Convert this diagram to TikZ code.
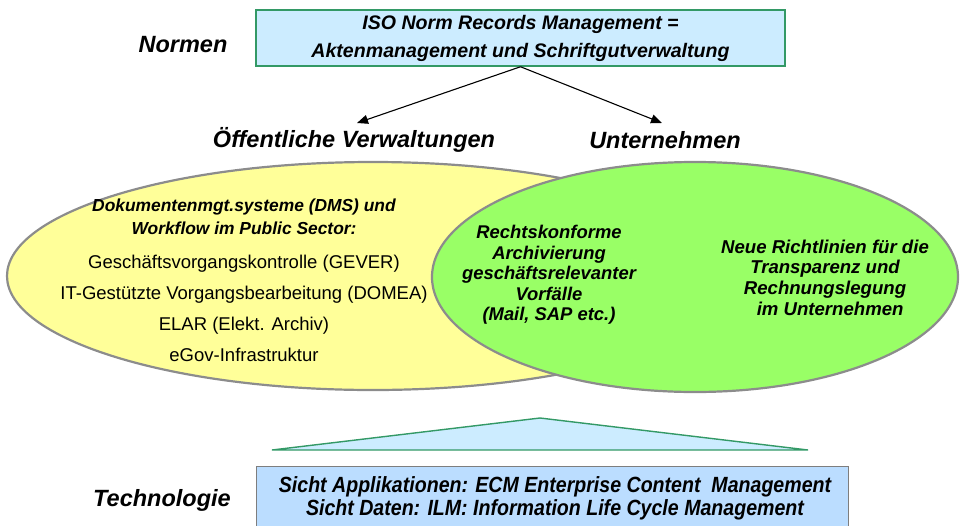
\documentclass[tikz,border=0pt]{standalone}
\usepackage{fontspec}
\setmainfont{Liberation Sans}
\usetikzlibrary{arrows.meta,shapes.geometric}
\definecolor{boxblue}{HTML}{CCECFF}
\definecolor{boxgreen}{HTML}{339966}
\definecolor{botblue}{HTML}{BBDDFF}
\definecolor{ellyellow}{HTML}{FFFF99}
\definecolor{ellgreen}{HTML}{99FF66}
\definecolor{ellline}{HTML}{8C8C8C}
\newfontfamily\narrowbi[FakeStretch=0.89]{Liberation Sans}
\begin{document}
\begin{tikzpicture}[x=1pt,y=-1pt,
  sidelbl/.style={font=\bfseries\itshape\fontsize{23.5}{26}\selectfont},
  headlbl/.style={font=\bfseries\itshape\fontsize{23.5}{26}\selectfont},
  elltext/.style={align=center,inner sep=0pt},
  ell/.style={draw=ellline,line width=2.2pt},
  conn/.style={line width=1.1pt,-{Triangle[length=11pt,width=9pt]}}
]
\useasboundingbox (0,0) rectangle (963,525);
\clip (0,0) rectangle (963,525);
% ellipses
\fill[ellyellow] (373,276) ellipse [x radius=366,y radius=114];
\draw[ell] (373,276) ellipse [x radius=366,y radius=114];
\node[ellipse,fill=ellgreen,draw=ellline,line width=2.2pt,minimum width=526,minimum height=230,inner sep=0pt] (ent) at (695,277) {};
% top box
\node[draw=boxgreen,fill=boxblue,line width=1.5pt,minimum width=529,minimum height=56,inner sep=0pt,align=center,font=\bfseries\itshape\fontsize{19.6}{28}\selectfont] (iso) at (520.5,38) {ISO Norm Records Management =\\Aktenmanagement und Schriftgutverwaltung};
\node[sidelbl] (normen) at (183,45) {Normen};
% labels
\node[headlbl] (oev) at (354,140) {Öffentliche Verwaltungen};
\node[headlbl] (unt) at (665,140) {Unternehmen};
\coordinate (tipL) at (357,123);
\coordinate (tipR) at (662,123);
\draw[conn] (iso.south) -- (tipL);
\draw[conn] (iso.south) -- (tipR);
% yellow text
\node[elltext,font=\bfseries\itshape\fontsize{17.4}{23}\selectfont] (dms) at (244,216.5) {Dokumentenmgt.systeme (DMS) und\\Workflow im Public Sector:};
\node[elltext,font=\fontsize{18.5}{31}\selectfont] (gever) at (244,308.5) {Geschäftsvorgangskontrolle (GEVER)\\IT-Gestützte Vorgangsbearbeitung (DOMEA)\\ELAR (Elekt. Archiv)\\eGov-Infrastruktur};
% green texts
\node[elltext,font=\bfseries\itshape\fontsize{18.4}{20.4}\selectfont] (arch) at (549,275) {Rechtskonforme\\Archivierung\\geschäftsrelevanter\\Vorfälle\\(Mail, SAP etc.)};
\node[elltext,font=\bfseries\itshape\fontsize{18.6}{20.6}\selectfont] (richt) at (825,277.5) {Neue Richtlinien für die\\Transparenz und\\Rechnungslegung\\\ \ im Unternehmen};
% triangle
\coordinate (triA) at (540,418);
\coordinate (triL) at (272,450);
\coordinate (triR) at (808,450);
\draw[boxgreen,fill=boxblue,line width=1.4pt,line join=miter] (triL) -- (triA) -- (triR) -- cycle;
% bottom box
\node[draw=ellline!90!black,fill=botblue,line width=1.2pt,minimum width=592,minimum height=80,inner sep=0pt,anchor=north west] (tech) at (256,466) {};
\node[elltext,font=\narrowbi\bfseries\itshape\fontsize{22}{23}\selectfont] (techtxt) at (555,498.5) {Sicht Applikationen: ECM Enterprise Content\ \ Management\\Sicht Daten: ILM: Information Life Cycle Management};
\node[sidelbl] (techlbl) at (162,500) {Technologie};
\end{tikzpicture}
\end{document}
